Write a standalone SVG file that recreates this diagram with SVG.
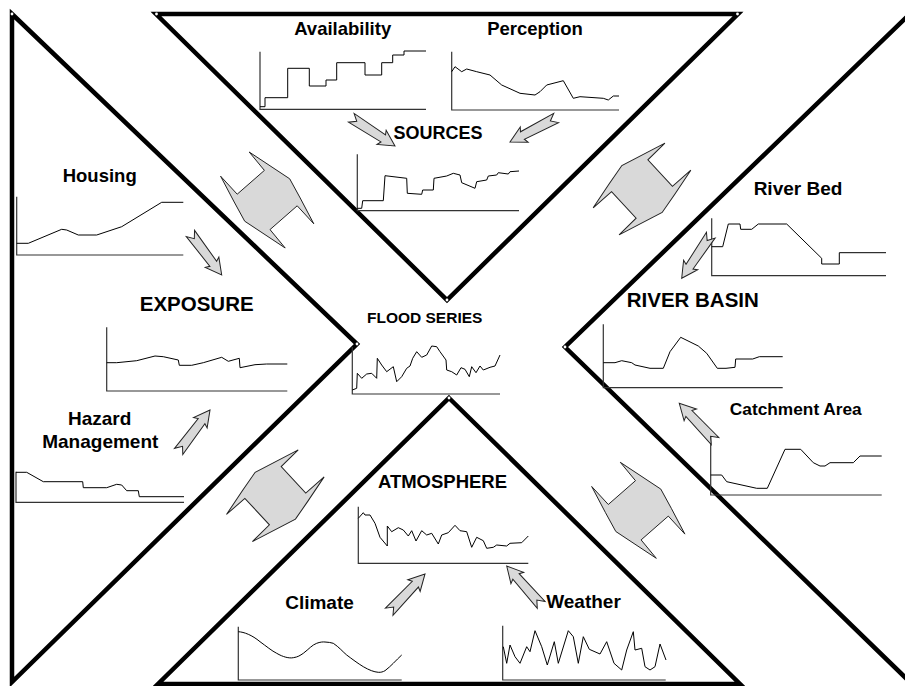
<svg xmlns="http://www.w3.org/2000/svg" xmlns:xlink="http://www.w3.org/1999/xlink" width="905" height="686" viewBox="0 0 905 686">
<style>
.frame{fill:none;stroke:#000;stroke-width:4.5;stroke-linejoin:miter}
.axis{fill:none;stroke:#333;stroke-width:1.2}
.series{fill:none;stroke:#000;stroke-width:1;stroke-linejoin:round}
.lbl{font-family:"Liberation Sans",Arial,sans-serif;font-weight:bold;fill:#000;text-anchor:middle}
.inter{fill:#d9d9d9;stroke:#222;stroke-width:1;stroke-linejoin:miter}
.arr{fill:#d9d9d9;stroke:#222;stroke-width:1}
.dot{fill:#fff;stroke:none}
</style>
<defs>
<path id="interlock" d="M-18,-48 L22.5,-21.2 L33,-2 L46.6,23.8 L30,5.8 L2.8,29.6 L18,48 L-22.5,21.2 L-33,2 L-46.6,-23.8 L-30,-5.8 L-2.8,-29.6 Z"/>
<path id="barrow" d="M0,0 L-16,-8.5 L-14,-4.2 L-52,-5.2 L-45.5,0 L-52,5.2 L-14,4.2 L-16,8.5 Z"/>
</defs>
<rect width="905" height="686" fill="#fff"/>

<g id="sources">
<path class="frame" d="M156,14 L738,14 L447,300 Z"/>
<text class="lbl" x="342.7" y="34.5" font-size="18.5">Availability</text>
<text class="lbl" x="535" y="35" font-size="18.5">Perception</text>
<text class="lbl" x="438" y="138.5" font-size="18">SOURCES</text>
<g id="chart-availability">
<path class="axis" d="M260,51.7 V109.3 H426"/>
<polyline class="series" points="260,106.7 265,106.7 265,97.7 287.7,97.7 287.7,68.3 309.3,68.3 309.3,86 326,86 326,80 336.7,80 336.7,62.7 365,62.7 365,75 381.7,75 381.7,62.7 392.7,62.7 392.7,55 404,55 404,51 426,51"/>
</g>
<g id="chart-perception">
<path class="axis" d="M451.7,51.7 V110 H619"/>
<polyline class="series" points="451.7,71.7 455,66.7 461.7,71.7 466.7,69 476.7,71.7 490,75 501.7,85 520,93.3 535,95 540,91.7 546.7,85 563.3,80.7 573.3,98.3 580,96.7 603.3,98.3 608.3,100 613.3,96 619,96"/>
</g>
<g id="chart-sources">
<path class="axis" d="M357.3,154.3 V210.7 H519"/>
<polyline class="series" points="357.3,208.3 361.7,208.3 362.7,200.7 383.3,200.7 385,175.7 406.7,178.3 407.3,193.3 421.7,194.3 422.7,190 433.3,190 434,178.3 446.7,176 453.3,173.3 460,175 461.7,182.7 475,188.3 476.7,181.7 486.7,180 488.3,176 496.7,175 498.3,172.7 508.3,174 510,171.7 519,171"/>
</g>
</g>

<g id="exposure">
<path class="frame" d="M12,14 L357,344 L12,682 Z"/>
<text class="lbl" x="99.7" y="181.5" font-size="18.5">Housing</text>
<text class="lbl" x="196.7" y="310.5" font-size="20.5">EXPOSURE</text>
<text class="lbl" x="99.7" y="425" font-size="19">Hazard</text>
<text class="lbl" x="100.3" y="448" font-size="19">Management</text>
<g id="chart-housing">
<path class="axis" d="M16.7,196.7 V255 H183.3"/>
<polyline class="series" points="16.7,243.3 28.3,243.3 61.7,229.3 66.7,230 78.3,235 96.7,235 121.7,226.7 161.7,202.3 183.3,202.3"/>
</g>
<g id="chart-exposure">
<path class="axis" d="M106.7,327.3 V391 H287.3"/>
<polyline class="series" points="106.7,362.7 116.7,362.7 136.7,360.7 155,356 163.3,356.7 178.3,360 179.3,365.3 191.7,365.3 203.3,362.7 221.7,357.3 228.3,361.3 239.3,358.3 240,367.7 255,364.7 266.7,364 287.3,364"/>
</g>
<g id="chart-hazard">
<path class="axis" d="M16,471.7 V502.3 H184"/>
<polyline class="series" points="16,472.3 26.7,472.3 43.3,481.7 82.7,481.7 83.3,487.7 106.7,487.7 116.7,484.3 121.7,485 126.7,490.7 138.3,490.7 139.3,496.7 184,496.7"/>
</g>
</g>

<g id="river-basin">
<path class="frame" d="M914,10 L565,347 L914,686"/>
<text class="lbl" x="798" y="195" font-size="19">River Bed</text>
<text class="lbl" x="692.8" y="306.7" font-size="20.5">RIVER BASIN</text>
<text class="lbl" x="795.8" y="415" font-size="17.3">Catchment Area</text>
<g id="chart-riverbed">
<path class="axis" d="M711.7,218.3 V275.7 H886"/>
<polyline class="series" points="711.7,246.7 722.7,246.7 728.3,224 740,224 740.7,229.3 751.7,229.3 758.3,224 786.7,224 821.7,258.3 821.7,264 839.3,264 839.3,252.7 886,252.7"/>
</g>
<g id="chart-riverbasin">
<path class="axis" d="M603.3,324.3 V387.7 H782.7"/>
<polyline class="series" points="603.3,362.7 615,362.7 621.7,360.7 631.7,362.7 635,365 650,368.3 663.3,368.3 670,351.7 680.7,337.3 698.3,346 706.7,353.3 717.3,368.3 726,368.3 735,367.3 735.7,359 752.7,359 759.3,356.7 782.7,356.7"/>
</g>
<g id="chart-catchment">
<path class="axis" d="M710.7,430 V495 H881.7"/>
<polyline class="series" points="710.7,475 721.7,475 726.7,481.7 756.7,488.3 767.3,488.3 785,449.3 800.7,449.3 813.3,462.7 820,466 825,466 830,462.7 853.3,462.7 860,456 881.7,456"/>
</g>
</g>

<g id="atmosphere">
<path class="frame" d="M449,398 L740,684 L158,684 Z"/>
<text class="lbl" x="442.5" y="488.3" font-size="18.5">ATMOSPHERE</text>
<text class="lbl" x="319.5" y="609" font-size="19">Climate</text>
<text class="lbl" x="583.5" y="607.7" font-size="19">Weather</text>
<g id="chart-atmosphere">
<path class="axis" d="M358.3,506.7 V563.3 H528.3"/>
<polyline class="series" points="358.3,518.3 363.3,512.7 365,515 370,515 375,523.3 380,537.3 387.3,546 387.3,526 391.7,531.7 398.3,527.7 403.3,530 408.3,536 411.7,530.7 416,541 421.7,530.7 426.7,535 431.7,533.3 438.3,544 441.7,535 448.3,532.7 455,525.3 460,530.7 466.7,531.7 471.7,547.3 476.7,537.3 483.3,540.7 486.7,548.3 493.3,547.3 496.7,545 506.7,546 510,543.3 521.7,542.7 528.3,536"/>
</g>
<g id="chart-climate">
<path class="axis" d="M238.3,626.7 V680 H401.7"/>
<path class="series" d="M238.3,631.7 C244,632 252,635 260,641.7 C266,646 272,651 276.7,653.3 C283,657 289,658.5 293.3,657.7 C298,657 300,655.5 303.3,653.3 C309,649 312,645 316.7,643.3 C320,642 323,641.8 325,642 C328,642.2 331,642.5 333.3,643.3 C339,647 343,652 346.7,655 C352,659 358,663.5 363.3,666.7 C369,670 374,672 378.3,672.3 C381,672.5 383,671.8 385,670.7 C388,668.5 391,665.5 393.3,663.3 C396,660.5 399,657.5 401.7,655"/>
</g>
<g id="chart-weather">
<path class="axis" d="M502.7,625.7 V680 H665.7"/>
<polyline class="series" points="503.3,646.7 506.7,663.3 510,645 515,656.7 520,663.3 526.7,646.7 530,651.7 535,630.7 541.7,646.7 547.3,665 554.3,641.7 558.3,663.3 568.3,630.7 573.3,636.7 578.3,663.3 583.3,636.7 589.3,649.3 600,654 606.7,641.7 614,663.3 621.7,670 626.7,650 633.3,631.7 635,650 641.7,648.3 645,666.7 650,670 655,666.7 660,644 666,660"/>
</g>
</g>

<g id="flood-series">
<text class="lbl" x="424.7" y="323.3" font-size="15.5">FLOOD SERIES</text>
<path class="axis" d="M352.3,347 V394 H500"/>
<polyline class="series" points="352.3,390 356.7,388.3 357.3,373.3 361.7,378.3 366.7,374 371.7,373.3 376.7,378.3 377.3,358.3 381.7,365 386.7,371.7 393.3,366.7 396.7,381.7 401.7,376.7 406.7,368.3 410,366 412.7,358.3 416.7,351.7 421.7,357.3 426.7,355 431.7,346 436.7,346.7 440,351.7 446,360 446.7,370 451.7,371.7 456.7,375 461,367.7 465,369.3 469.3,376.7 471.7,366.7 476,372.7 480,366 483.3,370 490,367.3 495,366 500,355"/>
</g>

<g id="corner-dots">
<circle class="dot" cx="156.5" cy="14" r="1.4"/>
<circle class="dot" cx="737.5" cy="14" r="1.4"/>
<circle class="dot" cx="12" cy="14" r="1.4"/>
<circle class="dot" cx="447" cy="300" r="1.4"/>
<circle class="dot" cx="357" cy="344" r="1.4"/>
<circle class="dot" cx="565" cy="347" r="1.4"/>
<circle class="dot" cx="449" cy="398" r="1.4"/>
</g>

<g id="connectors">
<use href="#interlock" xlink:href="#interlock" class="inter" transform="translate(267.2,200)"/>
<use href="#interlock" xlink:href="#interlock" class="inter" transform="translate(638.3,510.3)"/>
<use href="#interlock" xlink:href="#interlock" class="inter" transform="translate(642,189) rotate(6) scale(-1,1)"/>
<use href="#interlock" xlink:href="#interlock" class="inter" transform="translate(275.3,495.7) rotate(6) scale(-1,1)"/>
<use href="#barrow" xlink:href="#barrow" class="arr" transform="translate(395,146) rotate(32.8)"/>
<use href="#barrow" xlink:href="#barrow" class="arr" transform="translate(510,142) rotate(152.5)"/>
<use href="#barrow" xlink:href="#barrow" class="arr" transform="translate(221.7,275) rotate(53)"/>
<use href="#barrow" xlink:href="#barrow" class="arr" transform="translate(210,410) rotate(-52.9)"/>
<use href="#barrow" xlink:href="#barrow" class="arr" transform="translate(681.7,278.3) rotate(124)"/>
<use href="#barrow" xlink:href="#barrow" class="arr" transform="translate(679.3,403.3) rotate(-133.4)"/>
<use href="#barrow" xlink:href="#barrow" class="arr" transform="translate(425,574) rotate(-46.5)"/>
<use href="#barrow" xlink:href="#barrow" class="arr" transform="translate(506.7,566) rotate(-131.5)"/>
</g>
</svg>
